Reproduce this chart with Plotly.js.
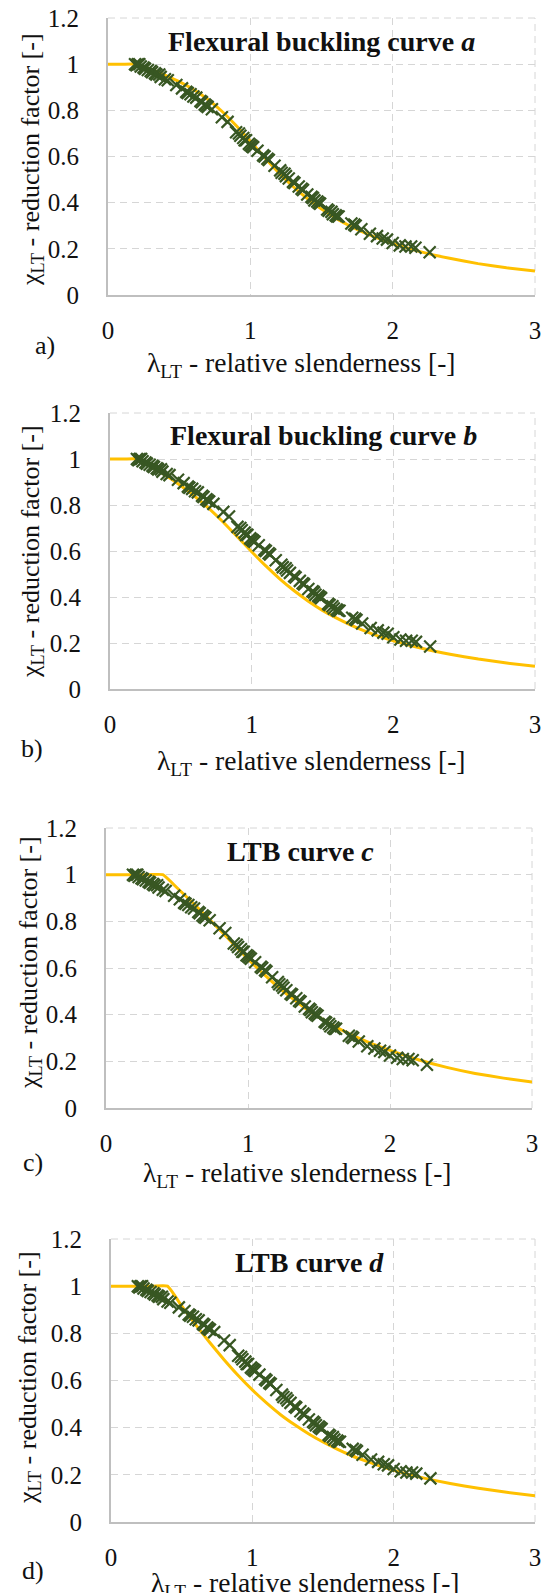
<!DOCTYPE html>
<html><head><meta charset="utf-8">
<script src="https://cdn.plot.ly/plotly-3.0.1.min.js"></script>
<style>html,body{margin:0;padding:0;background:#fff;overflow:hidden}</style>
</head><body><div id="chart" style="width:541px;height:1615px"></div>
<script>
// ---- data ----
const lambdaTest = [0.19,0.20,0.21,0.22,0.23,0.25,0.26,0.28,0.30,0.31,0.33,0.34,0.36,0.37,0.40,0.42,0.48,0.52,0.55,0.56,0.58,0.60,0.62,0.65,0.66,0.68,0.69,0.70,0.73,0.80,0.84,0.90,0.92,0.93,0.95,0.96,0.97,0.99,1.00,1.01,1.02,1.05,1.09,1.10,1.12,1.13,1.17,1.21,1.22,1.24,1.25,1.27,1.30,1.31,1.34,1.36,1.37,1.40,1.43,1.44,1.45,1.47,1.48,1.49,1.54,1.55,1.57,1.58,1.60,1.61,1.62,1.71,1.73,1.74,1.78,1.84,1.89,1.93,1.96,2.00,2.05,2.09,2.13,2.16,2.26];
const chiTest    = [1.00,0.995,1.00,1.00,0.99,0.985,0.98,0.975,0.97,0.965,0.96,0.955,0.955,0.945,0.935,0.93,0.91,0.895,0.88,0.875,0.87,0.86,0.855,0.84,0.835,0.825,0.82,0.815,0.805,0.77,0.75,0.705,0.70,0.69,0.68,0.67,0.67,0.655,0.65,0.645,0.64,0.625,0.605,0.60,0.59,0.585,0.56,0.54,0.53,0.525,0.515,0.505,0.49,0.485,0.47,0.46,0.455,0.435,0.425,0.42,0.41,0.405,0.40,0.395,0.37,0.365,0.36,0.35,0.345,0.34,0.34,0.31,0.305,0.30,0.285,0.265,0.255,0.245,0.24,0.225,0.215,0.21,0.21,0.205,0.185];

const curveLambda = [0,0.1,0.2,0.3,0.4,0.5,0.6,0.7,0.8,0.9,1.0,1.1,1.2,1.3,1.4,1.5,1.6,1.7,1.8,1.9,2.0,2.2,2.4,2.6,2.8,3.0];
const chiCurveA = [1,1,1,0.978,0.953,0.924,0.890,0.848,0.796,0.734,0.666,0.596,0.530,0.470,0.418,0.372,0.333,0.299,0.270,0.245,0.223,0.187,0.159,0.136,0.118,0.104];
const chiCurveB = [1,1,1,0.964,0.926,0.884,0.837,0.784,0.725,0.661,0.597,0.535,0.478,0.427,0.382,0.342,0.308,0.278,0.252,0.229,0.210,0.177,0.151,0.130,0.113,0.099];
const chiCurveC = [1,1,1,1,1,0.944,0.886,0.826,0.764,0.701,0.639,0.580,0.525,0.475,0.429,0.389,0.353,0.322,0.294,0.269,0.247,0.207,0.174,0.148,0.128,0.111];
const chiCurveD = [1,1,1,1,1,0.916,0.836,0.760,0.688,0.621,0.560,0.505,0.455,0.412,0.373,0.339,0.309,0.282,0.259,0.238,0.219,0.188,0.163,0.143,0.126,0.111];

const panelTitles = ['<b>Flexural buckling curve <i>a</i></b>','<b>Flexural buckling curve <i>b</i></b>','<b>LTB curve <i>c</i></b>','<b>LTB curve <i>d</i></b>'];
const panelLetters = ['a)','b)','c)','d)'];
const xTitleText = 'λ<sub>LT</sub> - relative slenderness [-]';
const yTitleText = 'χ<sub>LT</sub> - reduction factor [-]';
const xTickVals = [0,1,2,3];
const yTickVals = [0,0.2,0.4,0.6,0.8,1,1.2];

// ---- layout (pixel boxes, measured from top-left) ----
const W = 541, H = 1615; // drawing is taller than the window: bottom title is cut like the reference
const boxes = [
  {l:108,r:535,t:18,b:295,  tx:321,ty:42,   lx:45,ly:345,  xx:301,xy:365,  yx:32,yy:160},
  {l:110,r:535,t:413,b:689, tx:323,ty:436,  lx:32,ly:748,  xx:311,xy:762,  yx:32,yy:552},
  {l:106,r:532,t:828,b:1108,tx:300,ty:851,  lx:33,ly:1162, xx:297,xy:1174, yx:30,yy:963},
  {l:111,r:535,t:1239,b:1522,tx:309,ty:1262,lx:33,ly:1570, xx:305,xy:1584, yx:29,yy:1378}
];
const curves = [chiCurveA, chiCurveB, chiCurveC, chiCurveD];
const px = x => x / W;
const py = y => 1 - y / H;
const FONT = '"Liberation Serif", "Times New Roman", serif';
const GRID = '#d6d6d6';
const DASH = '7px,5px';

const data = [];
const layout = {
  width: W, height: H, autosize: false,
  margin: {l:0,r:0,t:0,b:0},
  paper_bgcolor: '#fff', plot_bgcolor: '#fff',
  showlegend: false,
  font: {family: FONT, size: 25, color: '#111'},
  annotations: [], shapes: []
};

boxes.forEach((bx, i) => {
  const n = i === 0 ? '' : String(i + 1);
  const xa = 'x' + n, ya = 'y' + n;
  data.push({
    x: curveLambda, y: curves[i], xaxis: xa, yaxis: ya,
    type: 'scatter', mode: 'lines',
    line: {color: '#FFC000', width: 3, shape: 'spline', smoothing: 0.4},
    hoverinfo: 'skip'
  });
  data.push({
    x: lambdaTest, y: chiTest, xaxis: xa, yaxis: ya,
    type: 'scatter', mode: 'markers', cliponaxis: false,
    marker: {symbol: 'x-thin', size: 12, line: {color: '#385723', width: 2.2}}
  });
  layout['xaxis' + n] = {
    domain: [px(bx.l), px(bx.r)], anchor: ya,
    range: [0, 3], tickvals: xTickVals, ticktext: xTickVals.map(String),
    showgrid: true, gridcolor: GRID, griddash: DASH, gridwidth: 1,
    zeroline: false, showline: true, linecolor: '#bfbfbf', linewidth: 2,
    ticks: 'outside', ticklen: 12, tickcolor: 'rgba(0,0,0,0)',
    ticklabeloverflow: 'allow',
    tickfont: {family: FONT, size: 25, color: '#111'}, fixedrange: true
  };
  layout['yaxis' + n] = {
    domain: [py(bx.b), py(bx.t)], anchor: xa,
    range: [0, 1.2], tickvals: yTickVals, ticktext: yTickVals.map(String),
    showgrid: true, gridcolor: GRID, griddash: DASH, gridwidth: 1,
    zeroline: false, showline: true, linecolor: '#bfbfbf', linewidth: 2,
    ticks: 'outside', ticklen: 22, tickcolor: 'rgba(0,0,0,0)',
    ticklabeloverflow: 'allow',
    tickfont: {family: FONT, size: 25, color: '#111'}, fixedrange: true
  };
  // dashed plot-area border at the top and right (grid lines at x = 3 and y = 1.2)
  layout.shapes.push({type:'line', xref: xa + ' domain', yref: ya + ' domain', x0:1, x1:1, y0:0, y1:1,
    line:{color: GRID, width: 1, dash: DASH}, layer: 'below'});
  layout.shapes.push({type:'line', xref: xa + ' domain', yref: ya + ' domain', x0:0, x1:1, y0:1, y1:1,
    line:{color: GRID, width: 1, dash: DASH}, layer: 'below'});

  const ann = (text, x, y, size, extra) => Object.assign({
    text: text, xref: 'paper', yref: 'paper', x: px(x), y: py(y),
    xanchor: 'center', yanchor: 'middle', showarrow: false,
    font: {family: FONT, size: size, color: '#111'}
  }, extra || {});
  layout.annotations.push(ann(panelTitles[i], bx.tx, bx.ty, 28));
  layout.annotations.push(ann(panelLetters[i], bx.lx, bx.ly, 26));
  layout.annotations.push(ann(xTitleText, bx.xx, bx.xy, 27.5));
  layout.annotations.push(ann(yTitleText, bx.yx, bx.yy, 26, {textangle: -90}));
});

Plotly.newPlot('chart', data, layout, {staticPlot: true, displayModeBar: false});
</script></body></html>
